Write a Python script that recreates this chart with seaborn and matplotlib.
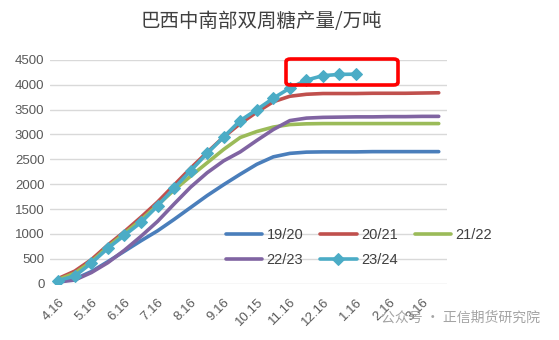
import numpy as np
import pandas as pd
import matplotlib
matplotlib.use("Agg")
import matplotlib.pyplot as plt
from matplotlib.patches import FancyBboxPatch
import seaborn as sns

# ---- data ----
categories = ["4.16", "5.1", "5.16", "6.1", "6.16", "7.1", "7.16", "8.1", "8.16", "9.1",
              "9.16", "10.1", "10.15", "11.1", "11.16", "12.1", "12.16", "1.1", "1.16",
              "2.1", "2.16", "3.1", "3.16", "4.1"]
tick_labels = ["4.16", "5.16", "6.16", "7.16", "8.16", "9.16", "10.15", "11.16",
               "12.16", "1.16", "2.16", "3.16"]
s1920 = [40, 90, 240, 440, 650, 860, 1060, 1290, 1530, 1770, 1990, 2200, 2400, 2550,
         2620, 2645, 2650, 2650, 2650, 2655, 2655, 2655, 2655, 2655]
s2021 = [100, 250, 480, 775, 1045, 1335, 1640, 1980, 2320, 2640, 2950, 3220, 3450, 3660,
         3770, 3810, 3825, 3825, 3825, 3830, 3830, 3830, 3835, 3840]
s2122 = [80, 210, 440, 740, 1010, 1280, 1580, 1880, 2160, 2430, 2700, 2940, 3060, 3150,
         3200, 3215, 3220, 3220, 3220, 3220, 3220, 3220, 3220, 3220]
s2223 = [30, 70, 220, 420, 670, 950, 1250, 1600, 1940, 2230, 2470, 2650, 2880, 3100,
         3280, 3330, 3345, 3350, 3355, 3355, 3360, 3360, 3365, 3365]
s2324 = [60, 150, 410, 710, 970, 1230, 1560, 1920, 2270, 2620, 2950, 3280, 3500, 3730,
         3935, 4095, 4185, 4210, 4215]
series_names = ["19/20", "20/21", "21/22", "22/23", "23/24"]
series_vals = [s1920, s2021, s2122, s2223, s2324]
colors = ["#4A7EBB", "#C0504D", "#9BBB59", "#8064A2", "#4BACC6"]

sns.set_theme(style="white")
plt.rcParams["font.family"] = ["Noto Sans CJK SC", "DejaVu Sans"]

W, H = 559, 340
fig = plt.figure(figsize=(W / 100, H / 100), dpi=100)
ax = fig.add_axes([50 / W, (H - 283.5) / H, (447 - 50) / W, (283.5 - 60) / H])

handles = {}
for name, vals, col in zip(series_names, series_vals, colors):
    df = pd.DataFrame({"x": np.arange(len(vals)), "y": vals})
    if name == "23/24":
        sns.lineplot(data=df, x="x", y="y", ax=ax, color=col, lw=2.6, marker="D",
                     markersize=6.5, markeredgecolor=col, label=name, zorder=5)
    else:
        sns.lineplot(data=df, x="x", y="y", ax=ax, color=col, lw=2.6, label=name,
                     solid_capstyle="round")
    handles[name] = ax.get_lines()[-1]

ax.set_xlim(-0.5, len(categories) - 0.5)
ax.set_ylim(0, 4500)
ax.set_yticks(np.arange(0, 4501, 500))
ax.set_yticklabels([str(v) for v in range(0, 4501, 500)], fontsize=9.5, color="#595959",
                   family=["Liberation Sans", "DejaVu Sans"])
ax.yaxis.grid(True, color="#D9D9D9", lw=1)
ax.xaxis.grid(False)
ax.set_axisbelow(True)
tick_pos = [categories.index(t) for t in tick_labels]
ax.set_xticks(tick_pos)
ax.set_xticklabels(tick_labels, rotation=45, ha="right", va="top", fontsize=9.5,
                   color="#595959", family=["Liberation Sans", "DejaVu Sans"],
                   rotation_mode="anchor")
ax.tick_params(axis="both", length=0, pad=4)
ax.tick_params(axis="x", pad=9)
ax.set_xlabel("")
ax.set_ylabel("")
for s in ax.spines.values():
    s.set_visible(False)

order = ["19/20", "22/23", "20/21", "23/24", "21/22"]
leg = ax.legend([handles[n] for n in order], order, loc="upper left",
                bbox_to_anchor=(220 / W, (H - 222) / H),
                bbox_transform=fig.transFigure, ncol=3, frameon=False,
                fontsize=10.5, handlelength=2.5, handletextpad=0.3,
                columnspacing=1.15, labelspacing=0.75, borderaxespad=0)
for t in leg.get_texts():
    t.set_color("#404040")
    t.set_family(["Liberation Sans", "DejaVu Sans"])

fig.text(261 / W, (H - 22) / H, "巴西中南部双周糖产量/万吨", ha="center", va="center",
         fontsize=14, color="#404040")

# red highlight box
box = FancyBboxPatch((286 / W, (H - 85) / H), 112 / W, 26 / H,
                     boxstyle="round,pad=0,rounding_size=0.008",
                     transform=fig.transFigure, fill=False, edgecolor="#FF0000", lw=2.6,
                     zorder=10)
fig.patches.append(box)

fig.text(540 / W, (H - 318) / H, "公众号 · 正信期货研究院", ha="right", va="center",
         fontsize=10, color="#9A9A9A", alpha=0.9)

fig.savefig("out.png", dpi=100)
